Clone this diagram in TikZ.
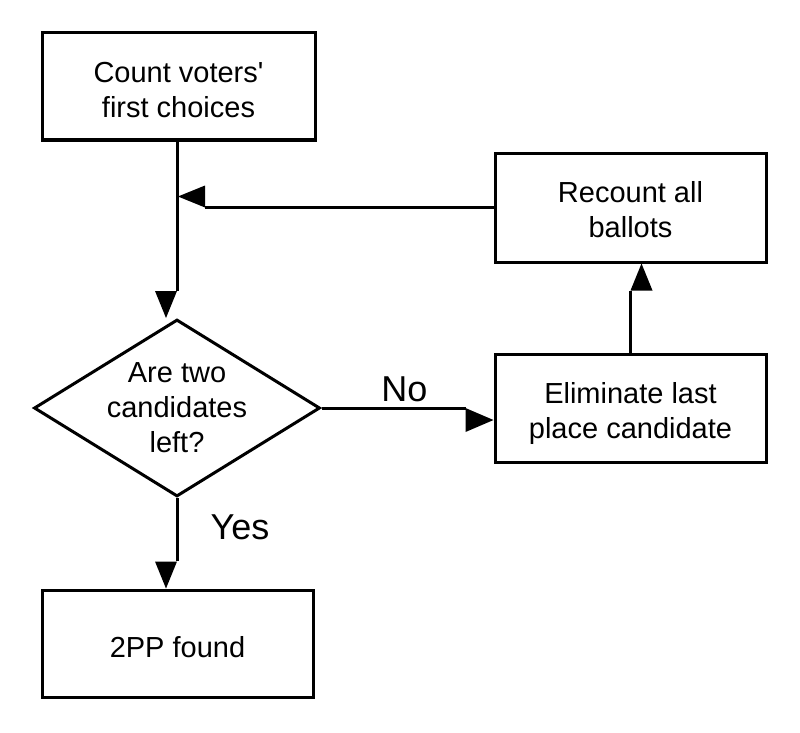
\documentclass[tikz,border=0pt]{standalone}
\usepackage{fontspec}
\setmainfont{Liberation Sans}
\usetikzlibrary{shapes.geometric,calc}
\begin{document}
\begin{tikzpicture}[x=1pt,y=-1pt,
 box/.style={draw,line width=3pt,fill=white,minimum width=273pt,minimum height=107pt,inner sep=0pt},
 conn/.style={line width=3pt},
 head/.style={fill=black},
 txt/.style={font=\fontsize{29}{35}\selectfont,inner sep=0pt,align=center},
 lbl/.style={font=\fontsize{36}{40}\selectfont,inner sep=0pt,anchor=base}]
\fill[white] (0,0) rectangle (800,733);
\useasboundingbox (0,0) rectangle (800,733);
\node[box] (count) at (178.5,86.5) {};
\node[txt] (counttext) at ($(count)+(0,4)$) {Count voters\textquotesingle\\first choices};
\node[box, minimum width=271pt, minimum height=109pt] (recount) at (630.5,207.5) {};
\node[txt] (recounttext) at ($(recount)+(0,2)$) {Recount all\\ballots};
\node[box, minimum width=271pt, minimum height=108pt] (elim) at (630.5,408) {};
\node[txt] (elimtext) at ($(elim)+(0,5)$) {Eliminate last\\place candidate};
\node[box, minimum width=271pt] (found) at (177.5,643.5) {};
\node[txt] (foundtext) at ($(found)+(0,4)$) {2PP found};
\node[diamond, draw, line width=3pt, fill=white, minimum width=286pt, minimum height=177pt, inner sep=0pt] (dec) at (177,408) {};
\node[txt] (dectext) at (dec) {Are two\\candidates\\left?};
% count -> decision
\draw[conn] (count.south -| dec.north) -- ($(dec.north)+(0,-27)$);
\fill[head] ($(dec.north)+(-11,0)$) -- ++(-11,-27) -- ++(22,0) -- cycle;
% recount -> merge
\draw[conn] (recount.west) -- ($(recount.west -| dec.north)+(28,0)$);
\fill[head] ($(recount.west -| dec.north)+(1,-11)$) -- ++(27,-11) -- ++(0,22) -- cycle;
% decision -> eliminate (No)
\draw[conn] (dec.east) -- ($(dec.east -| elim.west)+(-28,0)$);
\fill[head] ($(dec.east -| elim.west)+(0,12)$) -- ++(-28,-12) -- ++(0,24) -- cycle;
\node[lbl] (no) at (404.5,401) {No};
% eliminate -> recount
\draw[conn] (elim.north) -- ($(recount.south)+(0,27)$);
\fill[head] ($(recount.south)+(11,0)$) -- ++(-11,27) -- ++(22,0) -- cycle;
% decision -> found (Yes)
\draw[conn] (dec.south) -- ($(dec.south |- found.north)+(0,-28)$);
\fill[head] ($(dec.south |- found.north)+(-11,0)$) -- ++(-11,-27) -- ++(22,0) -- cycle;
\node[lbl] (yes) at (240,539) {Yes};
\end{tikzpicture}
\end{document}
